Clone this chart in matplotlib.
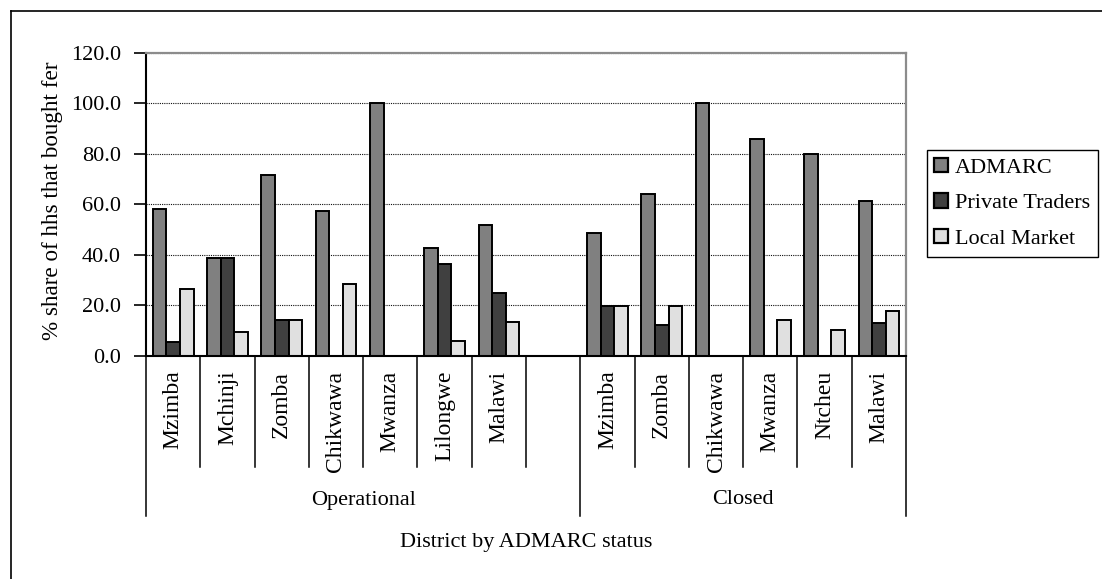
import numpy as np
import matplotlib
matplotlib.use("Agg")
import matplotlib.pyplot as plt
from matplotlib.patches import Patch
from matplotlib.lines import Line2D
from matplotlib.transforms import Bbox, TransformedBbox, blended_transform_factory

# === Data ===

groups = ["Operational", "Closed"]

# blank entry at the end of the operational block keeps a spacer slot
operational_districts = ["Mzimba", "Mchinji", "Zomba", "Chikwawa", "Mwanza", "Lilongwe", "Malawi", ""]
closed_districts = ["Mzimba", "Zomba", "Chikwawa", "Mwanza", "Ntcheu", "Malawi"]

operational_admarc = [58.0, 38.5, 71.4, 57.3, 100.0, 42.5, 51.7, 0.0]
operational_private = [5.5, 38.5, 14.1, 0.0, 0.0, 36.4, 24.7, 0.0]
operational_local = [26.3, 9.5, 14.1, 28.2, 0.0, 5.9, 13.2, 0.0]

closed_admarc = [48.7, 63.9, 100.0, 85.8, 80.0, 61.3]
closed_private = [19.7, 12.1, 0.0, 0.0, 0.0, 13.1]
closed_local = [19.7, 19.7, 0.0, 14.3, 10.2, 17.7]

series_names = ["ADMARC", "Private Traders", "Local Market"]
series_colors = ["#808080", "#404040", "#e0e0e0"]

yticks = [0, 20, 40, 60, 80, 100, 120]

# === Layout ===

W, H, DPI = 1102, 579, 100
plt.rcParams["font.family"] = ["Liberation Serif", "DejaVu Serif"]
FS = 16
FS_ROT = 17

districts = operational_districts + closed_districts
series = [
    operational_admarc + closed_admarc,
    operational_private + closed_private,
    operational_local + closed_local,
]
group_sizes = [len(operational_districts), len(closed_districts)]
n = len(districts)
x = np.arange(n) + 0.5

fig = plt.figure(figsize=(W / DPI, H / DPI), dpi=DPI)
ax = fig.add_axes([146 / W, 1 - 355.7 / H, (906 - 146) / W, (355.7 - 52.5) / H])

# === Bars ===

width = 0.25
for k, (vals, name, color) in enumerate(zip(series, series_names, series_colors)):
    ax.bar(x + (k - 1) * width, vals, width, color=color, edgecolor="black",
           linewidth=1.4, label=name, zorder=2)

ax.set_xlim(0, n)
ax.set_ylim(0, 120)
ax.set_yticks(yticks)
ax.set_yticklabels([f"{v:.1f}" for v in yticks], fontsize=FS)
ax.tick_params(axis="y", direction="out", length=9, width=1.2, pad=9)
ax.set_xticks([])

ax.yaxis.grid(True, color="#111111", linestyle=(0, (1, 1)), linewidth=0.8, zorder=0)
ax.set_axisbelow(True)

for side in ["top", "right"]:
    ax.spines[side].set_color("#8c8c8c")
    ax.spines[side].set_linewidth(1.6)
for side in ["left", "bottom"]:
    ax.spines[side].set_color("black")
    ax.spines[side].set_linewidth(1.5)

# === Category axis with group labels ===

trans = blended_transform_factory(ax.transData, ax.transAxes)
ax_h = 355.7 - 52.5
short_end = -(467.3 - 355.7) / ax_h
long_end = -(516 - 355.7) / ax_h

group_edges = np.concatenate([[0], np.cumsum(group_sizes)])
for b in range(n + 1):
    end = long_end if b in group_edges else short_end
    ax.plot([b, b], [0, end], color="black", linewidth=1.1, transform=trans, clip_on=False)

for xi, name in zip(x, districts):
    ax.text(xi, -15 / ax_h, name, rotation=90, ha="center", va="top",
            fontsize=FS_ROT, transform=trans)

for g, name in enumerate(groups):
    mid = (group_edges[g] + group_edges[g + 1]) / 2
    ax.text(mid, -(500 - 355.7) / ax_h, name, ha="center", va="center",
            fontsize=FS, transform=trans)

ax.text(0.5, -(543 - 355.7) / ax_h, "District by ADMARC status", ha="center",
        va="center", fontsize=FS, transform=ax.transAxes)

# y label runs off the top of the chart area and is cut there
ylab = fig.text(53 / W, 1 - 340 / H, "% share of hhs that bought fertilizer",
                rotation=90, ha="center", va="bottom", fontsize=16.7)
ylab.set_clip_box(TransformedBbox(Bbox.from_extents(0, 0, 1, 1 - 62 / H), fig.transFigure))
ylab.set_clip_on(True)

# === Legend ===

handles = [Patch(facecolor=c, edgecolor="black", linewidth=1.6) for c in series_colors]
leg = fig.legend(handles, series_names, loc="upper left",
                 bbox_to_anchor=(926.7 / W, 1 - 150 / H), fontsize=FS,
                 frameon=True, fancybox=False, shadow=False, framealpha=1,
                 borderpad=0.35, borderaxespad=0, handlelength=0.62,
                 handleheight=0.62, handletextpad=0.3, labelspacing=0.7)
leg.get_frame().set_edgecolor("black")
leg.get_frame().set_linewidth(1.0)

# === Chart frame (left and top edges) ===

fx, fy = 10.7 / W, 1 - 10.7 / H
fig.add_artist(Line2D([fx, fx], [0, fy], transform=fig.transFigure, color="black", linewidth=1.2))
fig.add_artist(Line2D([fx, 1], [fy, fy], transform=fig.transFigure, color="black", linewidth=1.2))

fig.savefig("out.png", dpi=DPI)
